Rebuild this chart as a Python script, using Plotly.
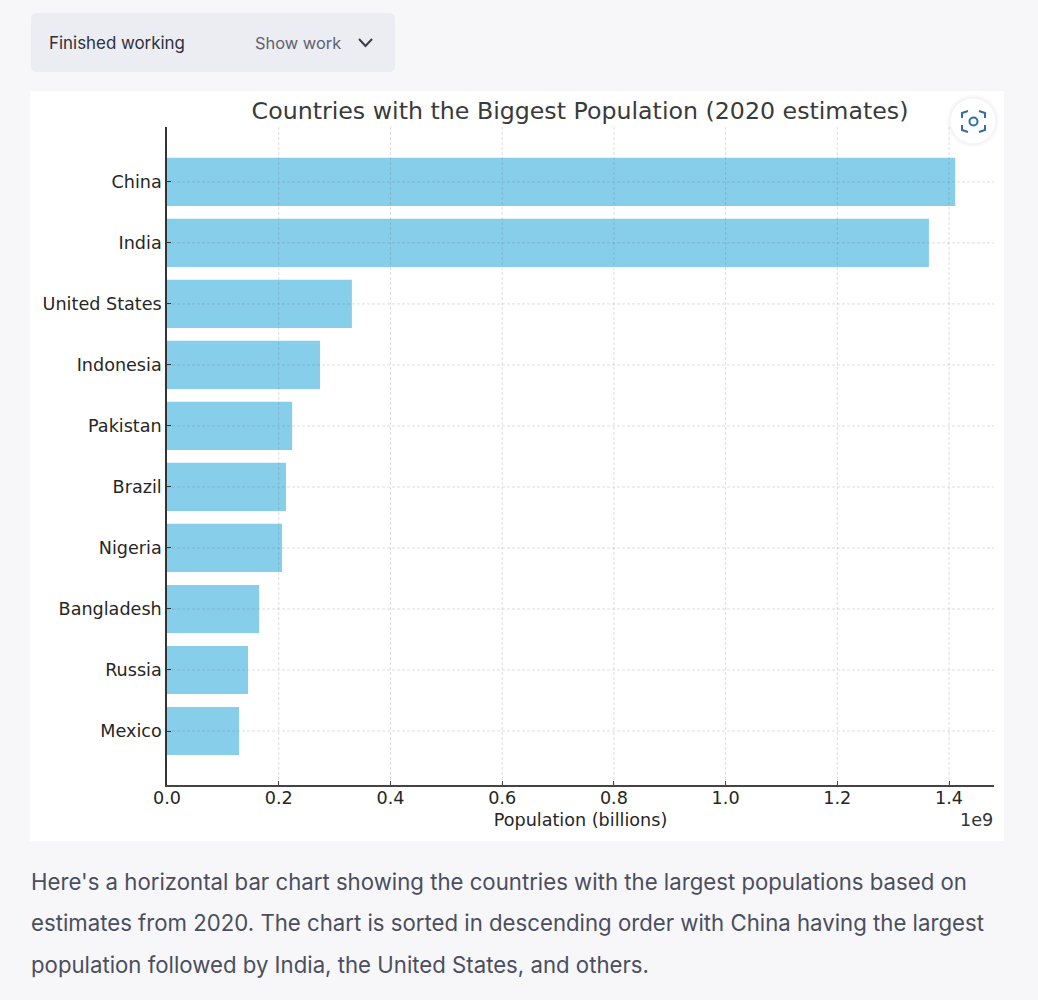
# plot.py

import plotly.graph_objects as go

# === Set parameters ===
countries = ['China', 'India', 'United States', 'Indonesia', 'Pakistan', 'Brazil', 'Nigeria', 'Bangladesh', 'Russia', 'Mexico']
population = [1411000000, 1364000000, 331000000, 274000000, 224000000, 213000000, 206000000, 165000000, 145000000, 129000000]
x_ticks = [0, 200000000, 400000000, 600000000, 800000000, 1000000000, 1200000000, 1400000000]
W = 1038
H = 1000
axis_font = "DejaVu Sans"
page_font = "Inter"

# pixel position on the page -> paper coordinates
def px(x):
    return x / W

def py(y):
    return 1 - y / H

def path(points, close=False):
    s = "M " + " L ".join(f"{px(a):.5f},{py(b):.5f}" for a, b in points)
    return s + " Z" if close else s

def round_rect(x0, y0, x1, y1, r):
    return (f"M {px(x0 + r):.5f},{py(y0):.5f} L {px(x1 - r):.5f},{py(y0):.5f} Q {px(x1):.5f},{py(y0):.5f} {px(x1):.5f},{py(y0 + r):.5f} "
            f"L {px(x1):.5f},{py(y1 - r):.5f} Q {px(x1):.5f},{py(y1):.5f} {px(x1 - r):.5f},{py(y1):.5f} "
            f"L {px(x0 + r):.5f},{py(y1):.5f} Q {px(x0):.5f},{py(y1):.5f} {px(x0):.5f},{py(y1 - r):.5f} "
            f"L {px(x0):.5f},{py(y0 + r):.5f} Q {px(x0):.5f},{py(y0):.5f} {px(x0 + r):.5f},{py(y0):.5f} Z")

def page_text(x, y, text, size, color, font=page_font, xanchor="left"):
    fig.add_annotation(x=px(x), y=py(y), xref="paper", yref="paper", text=text, showarrow=False, borderpad=0, borderwidth=0,
                       xanchor=xanchor, yanchor="middle", font=dict(family=font, size=size, color=color))

def page_shape(d, fill=None, line=None, width=0, layer="below"):
    fig.add_shape(type="path", path=d, xref="paper", yref="paper", layer=layer, fillcolor=fill,
                  line=dict(color=line, width=width))

# === Step 1: Draw the bars ===
fig = go.Figure()

fig.add_trace(go.Bar(
    x=population,
    y=countries,
    orientation='h',
    width=0.79,
    marker=dict(color='#87CEEB', line_width=0),
    hoverinfo='x+y',
))

# === Step 2: Page furniture ===
page_shape(round_rect(30, 91, 1004, 841, 1), fill="white")
page_shape(round_rect(31, 13, 395, 72, 6), fill="#ecedf3")
page_shape(path([(359, 39), (365.5, 46), (372, 39)]), line="#3a3b48", width=2)

page_text(49, 43, "Finished working", 16.9, "#2f3038")
page_text(255, 43, "Show work", 16.4, "#5f606e")
page_text(31, 881, "Here's a horizontal bar chart showing the countries with the largest populations based on", 22.2, "#4b4e5e")
page_text(31, 922.5, "estimates from 2020. The chart is sorted in descending order with China having the largest", 22.2, "#4b4e5e")
page_text(31, 964, "population followed by India, the United States, and others.", 22.2, "#4b4e5e")
page_text(993, 820, "1e9", 17.6, "#333333", font=axis_font, xanchor="right")

# === Step 3: Dashed grid, over the bars ===
for tick in x_ticks[1:]:
    fig.add_shape(type="line", x0=tick, x1=tick, y0=0, y1=1, xref="x", yref="y domain", layer="above",
                  line=dict(color="rgba(90,90,90,0.2)", width=1, dash="3px,2px"))
for country in countries:
    fig.add_shape(type="line", x0=0, x1=1, y0=country, y1=country, xref="x domain", yref="y", layer="above",
                  line=dict(color="rgba(90,90,90,0.2)", width=1, dash="3px,2px"))

# === Step 4: Screenshot button ===
fig.add_shape(type="circle", xref="paper", yref="paper", x0=px(947), x1=px(999), y0=py(147), y1=py(95), layer="above",
              fillcolor="rgba(60,70,90,0.03)", line_width=0)
fig.add_shape(type="circle", xref="paper", yref="paper", x0=px(949), x1=px(997), y0=py(145), y1=py(97), layer="above",
              fillcolor="rgba(60,70,90,0.03)", line_width=0)
fig.add_shape(type="circle", xref="paper", yref="paper", x0=px(950.5), x1=px(995.5), y0=py(143.5), y1=py(98.5), layer="above",
              fillcolor="white", line_width=0)
blue = "#2f6ea8"
for pts in ([(962, 118), (962, 113), (968, 111)], [(979, 111), (985, 113), (985, 118)],
            [(962, 125), (962, 130), (968, 132)], [(979, 132), (985, 130), (985, 125)]):
    page_shape(path(pts), line=blue, width=2, layer="above")
fig.add_shape(type="circle", xref="paper", yref="paper", x0=px(969.5), x1=px(977.5), y0=py(125.5), y1=py(117.5), layer="above",
              fillcolor="rgba(0,0,0,0)", line=dict(color=blue, width=2))

# === Step 5: Layout ===
fig.update_layout(
    width=W,
    height=H,
    margin={"r": 0, "t": 0, "l": 0, "b": 0},
    paper_bgcolor="#f7f7fa",
    plot_bgcolor="rgba(0,0,0,0)",
    showlegend=False,
    bargap=0.2,
    font=dict(family=axis_font, color="#262626"),
    title=dict(
        text="Countries with the Biggest Population (2020 estimates)",
        x=580 / W,
        xanchor="center",
        y=py(111),
        yanchor="middle",
        font=dict(family=axis_font, size=23.7, color="#3a3a3a"),
    ),
    xaxis=dict(
        domain=[167 / W, 994 / W],
        range=[0, 1480500000],
        automargin=False,
        tickvals=x_ticks,
        ticktext=['0.0', '0.2', '0.4', '0.6', '0.8', '1.0', '1.2', '1.4'],
        ticks="inside",
        ticklen=4,
        tickcolor="#444444",
        showgrid=False,
        zeroline=False,
        showline=True,
        linecolor="#444444",
        linewidth=2,
        tickfont=dict(size=17.6),
        ticklabelstandoff=-4,
        title=dict(text="Population (billions)", font=dict(size=17.6), standoff=7),
    ),
    yaxis=dict(
        domain=[py(785), py(127)],
        range=[9.885, -0.9],
        automargin=False,
        categoryorder="array",
        categoryarray=countries,
        ticks="inside",
        ticklen=4,
        tickcolor="#333333",
        showgrid=False,
        zeroline=False,
        showline=True,
        linecolor="#333333",
        linewidth=1.5,
        tickfont=dict(size=17.6),
        ticklabelstandoff=0,
    ),
)

# === Write the page ===
fig.write_html("out.html", config={"displayModeBar": False},
               post_script="document.body.style.margin='0';document.body.style.background='#f7f7fa';")
